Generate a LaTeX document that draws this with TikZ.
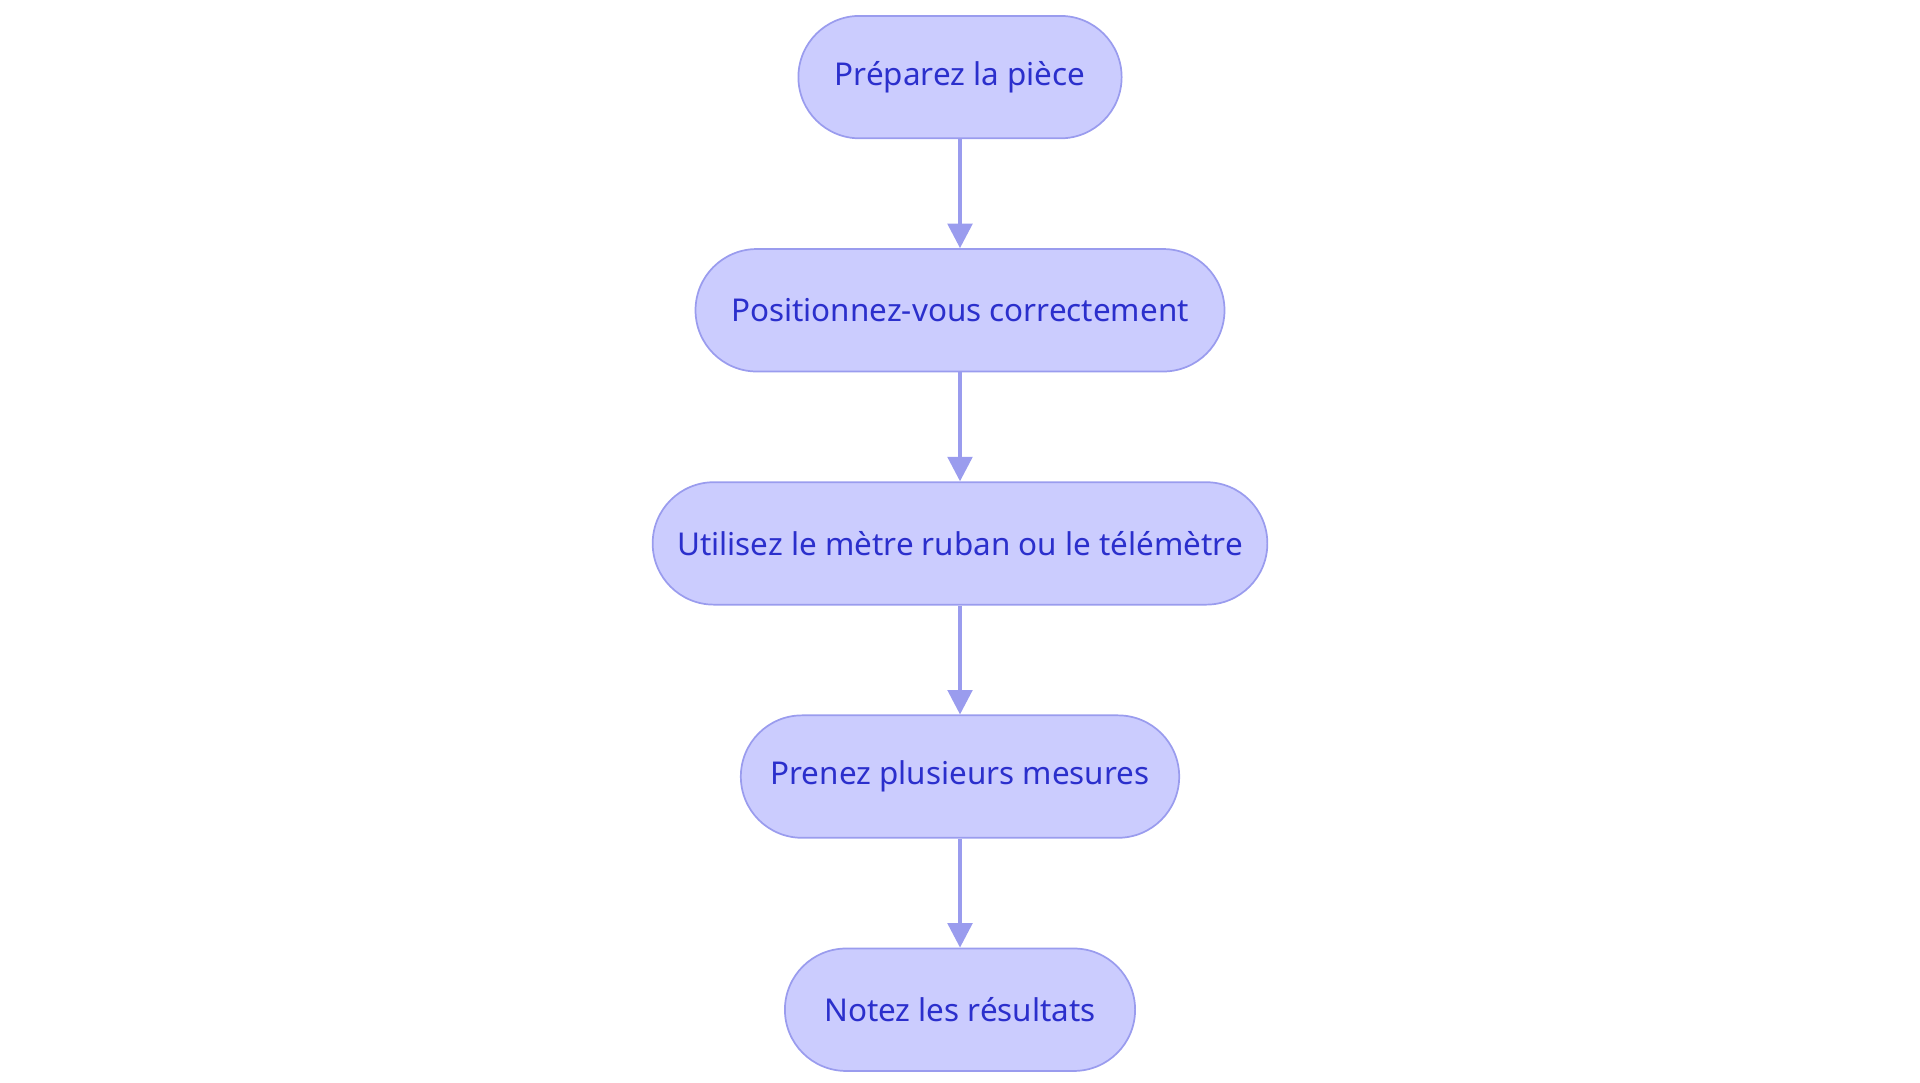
\documentclass[tikz,border=0pt]{standalone}
\usepackage{fontspec}
\setmainfont{Noto Sans}
\usetikzlibrary{positioning,arrows.meta}
\definecolor{stepfill}{HTML}{CBCCFE}
\definecolor{stepline}{HTML}{9A9CEE}
\definecolor{steptext}{HTML}{2B2FCC}
\begin{document}
\begin{tikzpicture}
  \tikzset{stage/.style={draw=stepline, fill=stepfill, text=steptext, rounded corners=0.5cm,
      minimum height=1cm, inner sep=0pt, font=\fontsize{7.3pt}{9pt}\selectfont},
    flow/.style={draw=stepline, line width=0.9pt, -{Triangle[length=0.2cm,width=0.2cm]}}}
  \useasboundingbox (0,0) rectangle (15.68,8.84);
    \node[stage, minimum width=2.64cm] at (7.84,8.21) (s1) {Préparez la pièce};
    \node[stage, minimum width=4.32cm, below=0.89cm of s1] (s2) {Positionnez-vous correctement};
    \node[stage, minimum width=5.02cm, below=0.89cm of s2] (s3) {Utilisez le mètre ruban ou le télémètre};
    \node[stage, minimum width=3.58cm, below=0.89cm of s3] (s4) {Prenez plusieurs mesures};
    \node[stage, minimum width=2.86cm, below=0.89cm of s4] (s5) {Notez les résultats};

	\draw[flow] (s1) -- (s2);
	\draw[flow] (s2) -- (s3);
	\draw[flow] (s3) -- (s4);
	\draw[flow] (s4) -- (s5);

  \end{tikzpicture}
\end{document}
